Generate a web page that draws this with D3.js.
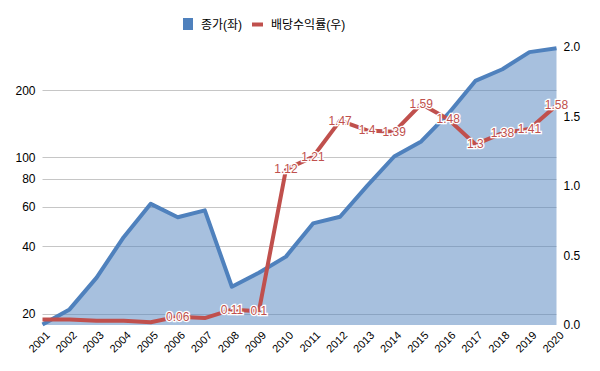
<!DOCTYPE html>
<html>
<head>
<meta charset="utf-8">
<script src="https://cdn.jsdelivr.net/npm/d3@7"></script>
<style>
  body { margin: 0; background: #fff; }
  text { font-family: "Liberation Sans", "Noto Sans CJK KR", sans-serif; }
</style>
</head>
<body>
<div id="chart"></div>
<script>
// Data
var years = ["2001", "2002", "2003", "2004", "2005", "2006", "2007", "2008", "2009", "2010",
             "2011", "2012", "2013", "2014", "2015", "2016", "2017", "2018", "2019", "2020"];
var closePrice = [17.9, 20.9, 29, 44, 62, 54, 58, 26.4, 30.5, 36,
                  50.7, 54.3, 74.6, 101, 118, 157, 220, 248, 296, 308];
var dividendYield = [0.04, 0.04, 0.03, 0.03, 0.02, 0.06, 0.05, 0.11, 0.1, 1.12,
                     1.21, 1.47, 1.4, 1.39, 1.59, 1.48, 1.3, 1.38, 1.41, 1.58];
// labels that are visible in the chart (null = hidden)
var yieldLabels = [null, null, null, null, null, "0.06", null, "0.11", "0.1", "1.12",
                   "1.21", "1.47", "1.4", "1.39", "1.59", "1.48", "1.3", "1.38", "1.41", "1.58"];
var leftTicks = [20, 40, 60, 80, 100, 200];
var rightTicks = [0, 0.5, 1.0, 1.5, 2.0];
var seriesNames = ["종가(좌)", "배당수익률(우)"];

var svgWidth = 600;
var svgHeight = 371;

var plot = { left: 42.5, right: 556.5, top: 47, bottom: 325 };

var blue = "#4F81BD";
var red = "#C0504D";

var svg = d3.select("#chart")
    .append("svg")
    .attr("width", svgWidth)
    .attr("height", svgHeight);

// Scales
var x = d3.scalePoint()
    .domain(years)
    .range([plot.left, plot.right]);

var yLeft = d3.scaleLog()
    .domain([17.8, 312])
    .range([plot.bottom, plot.top]);

var yRight = d3.scaleLinear()
    .domain([0, 2])
    .range([plot.bottom, plot.top]);

// Gridlines (left axis ticks)
svg.append("g")
    .selectAll("line")
    .data(leftTicks)
    .enter()
    .append("line")
    .attr("x1", plot.left)
    .attr("x2", plot.right)
    .attr("y1", d => Math.round(yLeft(d)) + 0.5)
    .attr("y2", d => Math.round(yLeft(d)) + 0.5)
    .attr("stroke", "#C6C6C6")
    .attr("stroke-width", 1);

// Left axis
var leftAxis = d3.axisLeft(yLeft)
    .tickValues(leftTicks)
    .tickFormat(d3.format("d"))
    .tickSize(0)
    .tickPadding(7);
var gLeft = svg.append("g")
    .attr("transform", `translate(${plot.left}, 0)`)
    .call(leftAxis);
gLeft.select(".domain").remove();
gLeft.selectAll("text")
    .attr("font-size", 12)
    .attr("fill", "#000");

// Right axis
var rightAxis = d3.axisRight(yRight)
    .tickValues(rightTicks)
    .tickFormat(d3.format(".1f"))
    .tickSize(0)
    .tickPadding(7);
var gRight = svg.append("g")
    .attr("transform", `translate(${plot.right}, 0)`)
    .call(rightAxis);
gRight.select(".domain").remove();
gRight.selectAll("text")
    .attr("font-size", 12)
    .attr("fill", "#000");

// Area for close price
var area = d3.area()
    .x(d => x(d.year))
    .y0(plot.bottom)
    .y1(d => yLeft(d.value));

var priceData = years.map((y, i) => ({ year: y, value: closePrice[i] }));
var yieldData = years.map((y, i) => ({ year: y, value: dividendYield[i], label: yieldLabels[i] }));

svg.append("path")
    .datum(priceData)
    .attr("d", area)
    .attr("fill", blue)
    .attr("fill-opacity", 0.5);

svg.append("path")
    .datum(priceData)
    .attr("d", d3.line().x(d => x(d.year)).y(d => yLeft(d.value)))
    .attr("fill", "none")
    .attr("stroke", blue)
    .attr("stroke-width", 4)
    .attr("stroke-linejoin", "round");

// Dividend yield line
svg.append("path")
    .datum(yieldData)
    .attr("d", d3.line().x(d => x(d.year)).y(d => yRight(d.value)))
    .attr("fill", "none")
    .attr("stroke", red)
    .attr("stroke-width", 4)
    .attr("stroke-linejoin", "round");

// Data labels
svg.append("g")
    .selectAll("text")
    .data(yieldData.filter(d => d.label))
    .enter()
    .append("text")
    .attr("x", d => x(d.year))
    .attr("y", d => yRight(d.value) + 4)
    .attr("text-anchor", "middle")
    .attr("font-size", 12)
    .attr("fill", red)
    .attr("stroke", "#fff")
    .attr("stroke-width", 2.5)
    .attr("paint-order", "stroke")
    .text(d => d.label);

// X axis labels, rotated
svg.append("g")
    .selectAll("text")
    .data(years)
    .enter()
    .append("text")
    .attr("transform", d => `translate(${x(d) + 8}, 336) rotate(-45)`)
    .attr("text-anchor", "end")
    .attr("font-size", 11)
    .attr("fill", "#000")
    .text(d => d);

// Legend
var legend = svg.append("g");
legend.append("rect")
    .attr("x", 183)
    .attr("y", 18)
    .attr("width", 10)
    .attr("height", 12)
    .attr("fill", blue);
legend.append("text")
    .attr("x", 201)
    .attr("y", 28.5)
    .attr("font-size", 12)
    .attr("fill", "#000")
    .text(seriesNames[0]);
legend.append("line")
    .attr("x1", 252)
    .attr("x2", 263)
    .attr("y1", 24.5)
    .attr("y2", 24.5)
    .attr("stroke", red)
    .attr("stroke-width", 4);
legend.append("text")
    .attr("x", 271)
    .attr("y", 28.5)
    .attr("font-size", 12)
    .attr("fill", "#000")
    .text(seriesNames[1]);
</script>
</body>
</html>
